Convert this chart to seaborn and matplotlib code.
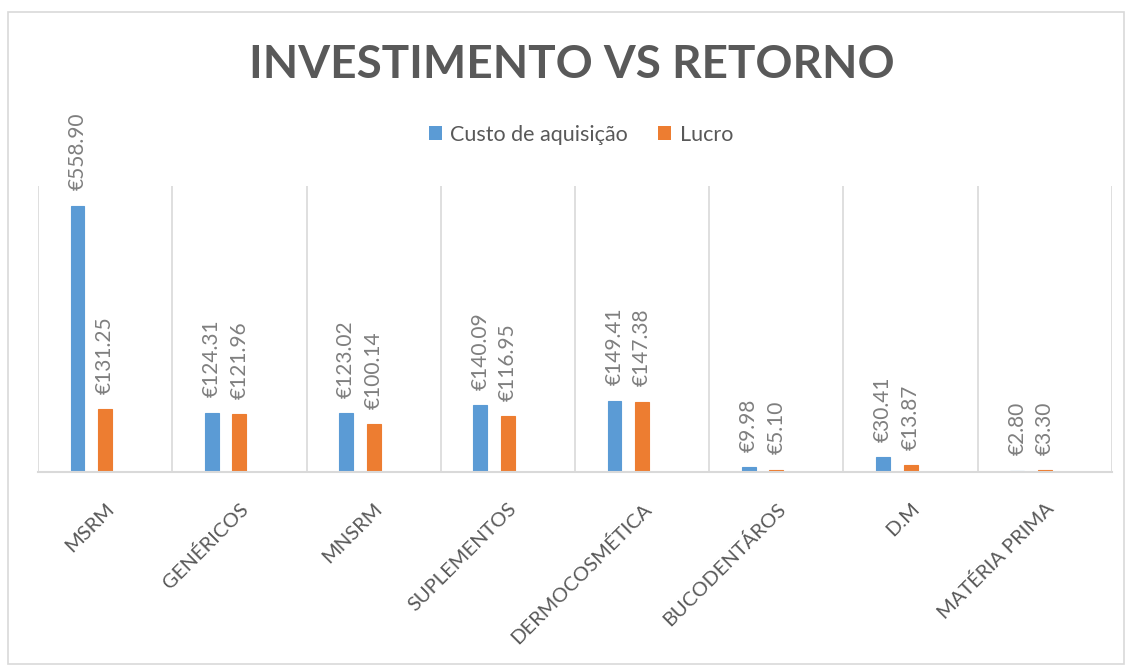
import numpy as np
import pandas as pd
import matplotlib
matplotlib.use("Agg")
import matplotlib.pyplot as plt
import seaborn as sns
from matplotlib.patches import Rectangle, Patch

# dados do gráfico
categorias = ["MSRM", "GENÉRICOS", "MNSRM", "SUPLEMENTOS", "DERMOCOSMÉTICA",
              "BUCODENTÁROS", "D.M", "MATÉRIA PRIMA"]
custo = [558.90, 124.31, 123.02, 140.09, 149.41, 9.98, 30.41, 2.80]
lucro = [131.25, 121.96, 100.14, 116.95, 147.38, 5.10, 13.87, 3.30]
series = ["Custo de aquisição", "Lucro"]
cores = ["#5B9BD5", "#ED7D31"]

df = pd.DataFrame({
    "categoria": categorias * 2,
    "valor": custo + lucro,
    "serie": [series[0]] * len(categorias) + [series[1]] * len(categorias),
})

sns.set_style("white")
plt.rcParams["font.family"] = ["Lato", "DejaVu Sans"]

fig = plt.figure(figsize=(11.31, 6.67), dpi=100)
ax = fig.add_axes([0.0336, 0.2924, 0.9496, 0.4287])

# third (empty) hue level keeps the Excel-like offset of the two bars
ax = sns.barplot(data=df, x="categoria", y="valor", hue="serie",
                 order=categorias, hue_order=series + ["vazio"],
                 palette=cores + ["#A5A5A5"], width=0.615, gap=0.5,
                 saturation=1, legend=False, linewidth=0.8, ax=ax)
for cont in ax.containers:
    for bar in cont:
        bar.set_edgecolor(bar.get_facecolor())

for cont in ax.containers:
    ax.bar_label(cont, labels=[f"€{v:.2f}" for v in cont.datavalues],
                 rotation=90, padding=11, fontsize=15, color="#7F7F7F")

ax.set_ylim(0, 600)
ax.set_xlim(-0.5, len(categorias) - 0.5)
ax.set_yticks([])
ax.set_xlabel("")
ax.set_ylabel("")
ax.set_xticks(range(len(categorias)))
ax.set_xticklabels(categorias, rotation=45, ha="right", rotation_mode="anchor",
                   fontsize=14.5, color="#595959")
ax.tick_params(axis="x", length=0, pad=20)
ax.set_xticks(np.arange(-0.5, len(categorias)), minor=True)
ax.tick_params(axis="x", which="minor", length=0)
ax.grid(True, axis="x", which="minor", color="#D9D9D9", linewidth=1.2)
ax.grid(False, axis="x", which="major")
for s in ["top", "left", "right"]:
    ax.spines[s].set_visible(False)
ax.spines["bottom"].set_color("#D9D9D9")
ax.spines["bottom"].set_linewidth(1.5)

fig.text(0.5055, 0.903, "INVESTIMENTO VS RETORNO", ha="center", va="center",
         fontsize=33, fontweight="bold", color="#595959")

handles = [Patch(facecolor=c, edgecolor="none") for c in cores]
fig.legend(handles, series, loc="center", bbox_to_anchor=(0.5135, 0.798), ncol=2,
           frameon=False, fontsize=15.5, labelcolor="#595959", handlelength=0.6,
           handleheight=0.6, handletextpad=0.4, columnspacing=1.4)

fig.patches.append(Rectangle((0.007, 0.005), 0.987, 0.977, transform=fig.transFigure,
                             fill=False, edgecolor="#D9D9D9", linewidth=1.2))

fig.savefig("out.png", dpi=100, facecolor="white")
